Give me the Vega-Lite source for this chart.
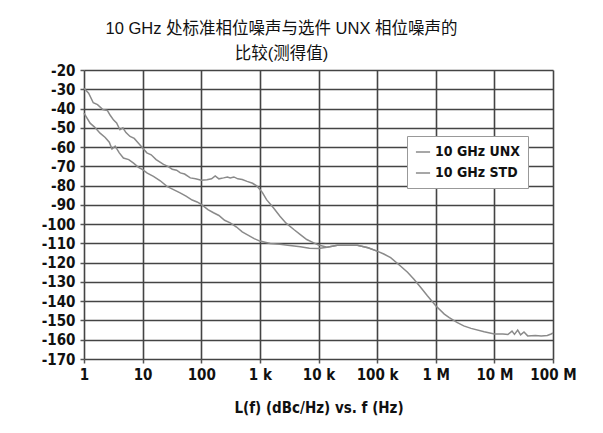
{
  "$schema": "https://vega.github.io/schema/vega-lite/v6.json",
  "autosize": {"type": "none"},
  "width": 469,
  "height": 289,
  "padding": {"left": 84, "top": 70, "right": 50, "bottom": 74},
  "background": "white",
  "title": {
    "text": ["10 GHz 处标准相位噪声与选件 UNX 相位噪声的", "比较(测得值)"],
    "font": "Liberation Sans, Noto Sans CJK SC, sans-serif",
    "fontSize": 16.5,
    "fontWeight": "normal",
    "color": "#111",
    "lineHeight": 25,
    "anchor": "middle",
    "frame": "group",
    "dx": -37,
    "offset": 1
  },
  "config": {
    "view": {"stroke": null},
    "axis": {
      "labelFont": "Liberation Sans Narrow, DejaVu Sans Condensed, sans-serif",
      "labelFontWeight": "bold",
      "labelFontSize": 15,
      "labelColor": "#111",
      "titleFont": "Liberation Sans Narrow, DejaVu Sans Condensed, sans-serif",
      "titleFontWeight": "bold",
      "titleFontSize": 15,
      "titleColor": "#111",
      "gridColor": "#444",
      "gridWidth": 1.6,
      "gridOpacity": 1,
      "tickColor": "#555",
      "tickWidth": 1.5,
      "tickSize": 4,
      "domain": false
    },
    "legend": {
      "labelFont": "Liberation Sans Narrow, DejaVu Sans Condensed, sans-serif",
      "labelFontWeight": "bold",
      "labelFontSize": 14,
      "labelColor": "#111"
    }
  },
  "data": {
    "values": [
      {"f": 1, "L": -29.5, "s": "10 GHz STD"},
      {"f": 1.2, "L": -32, "s": "10 GHz STD"},
      {"f": 1.44, "L": -37, "s": "10 GHz STD"},
      {"f": 1.7, "L": -38, "s": "10 GHz STD"},
      {"f": 2.1, "L": -40.5, "s": "10 GHz STD"},
      {"f": 2.5, "L": -41, "s": "10 GHz STD"},
      {"f": 2.8, "L": -43.5, "s": "10 GHz STD"},
      {"f": 3.2, "L": -46, "s": "10 GHz STD"},
      {"f": 3.6, "L": -47.5, "s": "10 GHz STD"},
      {"f": 4.1, "L": -51, "s": "10 GHz STD"},
      {"f": 4.6, "L": -50, "s": "10 GHz STD"},
      {"f": 5.2, "L": -52.5, "s": "10 GHz STD"},
      {"f": 6.1, "L": -54.5, "s": "10 GHz STD"},
      {"f": 7.2, "L": -55.5, "s": "10 GHz STD"},
      {"f": 8.5, "L": -58, "s": "10 GHz STD"},
      {"f": 10, "L": -60.5, "s": "10 GHz STD"},
      {"f": 11.8, "L": -63, "s": "10 GHz STD"},
      {"f": 14, "L": -64, "s": "10 GHz STD"},
      {"f": 17, "L": -66.5, "s": "10 GHz STD"},
      {"f": 22.7, "L": -69, "s": "10 GHz STD"},
      {"f": 27, "L": -70, "s": "10 GHz STD"},
      {"f": 32, "L": -71.5, "s": "10 GHz STD"},
      {"f": 38, "L": -72, "s": "10 GHz STD"},
      {"f": 44, "L": -73.4, "s": "10 GHz STD"},
      {"f": 52, "L": -74, "s": "10 GHz STD"},
      {"f": 65, "L": -76, "s": "10 GHz STD"},
      {"f": 80, "L": -76.5, "s": "10 GHz STD"},
      {"f": 100, "L": -77.2, "s": "10 GHz STD"},
      {"f": 125, "L": -77, "s": "10 GHz STD"},
      {"f": 150, "L": -76.5, "s": "10 GHz STD"},
      {"f": 173, "L": -75, "s": "10 GHz STD"},
      {"f": 200, "L": -76.5, "s": "10 GHz STD"},
      {"f": 240, "L": -76, "s": "10 GHz STD"},
      {"f": 280, "L": -75.5, "s": "10 GHz STD"},
      {"f": 312, "L": -76, "s": "10 GHz STD"},
      {"f": 360, "L": -75.5, "s": "10 GHz STD"},
      {"f": 420, "L": -76.5, "s": "10 GHz STD"},
      {"f": 500, "L": -76.8, "s": "10 GHz STD"},
      {"f": 605, "L": -77.8, "s": "10 GHz STD"},
      {"f": 750, "L": -78.8, "s": "10 GHz STD"},
      {"f": 895, "L": -80.3, "s": "10 GHz STD"},
      {"f": 1100, "L": -83.5, "s": "10 GHz STD"},
      {"f": 1300, "L": -87.3, "s": "10 GHz STD"},
      {"f": 1700, "L": -91.5, "s": "10 GHz STD"},
      {"f": 2200, "L": -95.9, "s": "10 GHz STD"},
      {"f": 2800, "L": -99.5, "s": "10 GHz STD"},
      {"f": 3800, "L": -102.8, "s": "10 GHz STD"},
      {"f": 4900, "L": -105.4, "s": "10 GHz STD"},
      {"f": 6300, "L": -108, "s": "10 GHz STD"},
      {"f": 8300, "L": -109.7, "s": "10 GHz STD"},
      {"f": 10000, "L": -110.8, "s": "10 GHz STD"},
      {"f": 14000, "L": -112, "s": "10 GHz STD"},
      {"f": 21000, "L": -111, "s": "10 GHz STD"},
      {"f": 30000, "L": -111, "s": "10 GHz STD"},
      {"f": 46000, "L": -111, "s": "10 GHz STD"},
      {"f": 70000, "L": -112.3, "s": "10 GHz STD"},
      {"f": 100000, "L": -114, "s": "10 GHz STD"},
      {"f": 130000, "L": -115.5, "s": "10 GHz STD"},
      {"f": 170000, "L": -117.4, "s": "10 GHz STD"},
      {"f": 250000, "L": -121.7, "s": "10 GHz STD"},
      {"f": 330000, "L": -125, "s": "10 GHz STD"},
      {"f": 425000, "L": -128.6, "s": "10 GHz STD"},
      {"f": 560000, "L": -133, "s": "10 GHz STD"},
      {"f": 720000, "L": -137.2, "s": "10 GHz STD"},
      {"f": 1000000, "L": -142.4, "s": "10 GHz STD"},
      {"f": 1400000, "L": -146.7, "s": "10 GHz STD"},
      {"f": 1700000, "L": -148.5, "s": "10 GHz STD"},
      {"f": 2300000, "L": -151, "s": "10 GHz STD"},
      {"f": 3000000, "L": -152.8, "s": "10 GHz STD"},
      {"f": 4000000, "L": -154.1, "s": "10 GHz STD"},
      {"f": 6700000, "L": -155.9, "s": "10 GHz STD"},
      {"f": 10000000, "L": -157, "s": "10 GHz STD"},
      {"f": 14000000, "L": -157, "s": "10 GHz STD"},
      {"f": 17000000, "L": -157.3, "s": "10 GHz STD"},
      {"f": 20000000, "L": -155.5, "s": "10 GHz STD"},
      {"f": 22000000, "L": -157.2, "s": "10 GHz STD"},
      {"f": 25000000, "L": -155, "s": "10 GHz STD"},
      {"f": 28000000, "L": -157.5, "s": "10 GHz STD"},
      {"f": 32000000, "L": -156, "s": "10 GHz STD"},
      {"f": 37000000, "L": -158, "s": "10 GHz STD"},
      {"f": 50000000, "L": -157.8, "s": "10 GHz STD"},
      {"f": 63000000, "L": -158, "s": "10 GHz STD"},
      {"f": 80000000, "L": -157.8, "s": "10 GHz STD"},
      {"f": 93000000, "L": -157, "s": "10 GHz STD"},
      {"f": 100000000, "L": -156.5, "s": "10 GHz STD"},

      {"f": 1, "L": -42.4, "s": "10 GHz UNX"},
      {"f": 1.27, "L": -47.6, "s": "10 GHz UNX"},
      {"f": 1.5, "L": -49.5, "s": "10 GHz UNX"},
      {"f": 1.88, "L": -52.8, "s": "10 GHz UNX"},
      {"f": 2.3, "L": -55, "s": "10 GHz UNX"},
      {"f": 2.7, "L": -57.5, "s": "10 GHz UNX"},
      {"f": 3, "L": -61, "s": "10 GHz UNX"},
      {"f": 3.4, "L": -59.5, "s": "10 GHz UNX"},
      {"f": 4, "L": -63, "s": "10 GHz UNX"},
      {"f": 4.7, "L": -65.7, "s": "10 GHz UNX"},
      {"f": 5.8, "L": -66.5, "s": "10 GHz UNX"},
      {"f": 7, "L": -68.3, "s": "10 GHz UNX"},
      {"f": 8.5, "L": -70.5, "s": "10 GHz UNX"},
      {"f": 10, "L": -71.7, "s": "10 GHz UNX"},
      {"f": 12, "L": -73.5, "s": "10 GHz UNX"},
      {"f": 15.3, "L": -75.2, "s": "10 GHz UNX"},
      {"f": 20, "L": -77.5, "s": "10 GHz UNX"},
      {"f": 26, "L": -80.4, "s": "10 GHz UNX"},
      {"f": 33, "L": -82, "s": "10 GHz UNX"},
      {"f": 43.6, "L": -83.8, "s": "10 GHz UNX"},
      {"f": 55, "L": -85.5, "s": "10 GHz UNX"},
      {"f": 70, "L": -87.5, "s": "10 GHz UNX"},
      {"f": 85, "L": -88.5, "s": "10 GHz UNX"},
      {"f": 100, "L": -89.8, "s": "10 GHz UNX"},
      {"f": 130, "L": -92.5, "s": "10 GHz UNX"},
      {"f": 162, "L": -94.1, "s": "10 GHz UNX"},
      {"f": 200, "L": -95.5, "s": "10 GHz UNX"},
      {"f": 250, "L": -98, "s": "10 GHz UNX"},
      {"f": 312, "L": -99.3, "s": "10 GHz UNX"},
      {"f": 400, "L": -101.5, "s": "10 GHz UNX"},
      {"f": 500, "L": -104, "s": "10 GHz UNX"},
      {"f": 605, "L": -105.4, "s": "10 GHz UNX"},
      {"f": 800, "L": -107.5, "s": "10 GHz UNX"},
      {"f": 1000, "L": -108.8, "s": "10 GHz UNX"},
      {"f": 1500, "L": -110, "s": "10 GHz UNX"},
      {"f": 2200, "L": -110.5, "s": "10 GHz UNX"},
      {"f": 3000, "L": -111, "s": "10 GHz UNX"},
      {"f": 4900, "L": -111.7, "s": "10 GHz UNX"},
      {"f": 7000, "L": -112.5, "s": "10 GHz UNX"},
      {"f": 10000, "L": -112.7, "s": "10 GHz UNX"},
      {"f": 14000, "L": -112, "s": "10 GHz UNX"},
      {"f": 21000, "L": -111, "s": "10 GHz UNX"},
      {"f": 30000, "L": -111, "s": "10 GHz UNX"},
      {"f": 46000, "L": -111, "s": "10 GHz UNX"},
      {"f": 70000, "L": -112.3, "s": "10 GHz UNX"},
      {"f": 100000, "L": -114, "s": "10 GHz UNX"}
    ]
  },
  "mark": {"type": "line", "strokeWidth": 1.5, "interpolate": "linear"},
  "encoding": {
    "x": {
      "field": "f",
      "type": "quantitative",
      "scale": {"type": "log", "domain": [1, 100000000], "nice": false},
      "axis": {
        "values": [1, 10, 100, 1000, 10000, 100000, 1000000, 10000000, 100000000],
        "labelExpr": "datum.value >= 1e6 ? format(datum.value/1e6, 'd') + ' M' : datum.value >= 1e3 ? format(datum.value/1e3, 'd') + ' k' : format(datum.value, 'd')",
        "labelPadding": 4,
        "labelFlush": false,
        "labelOverlap": false,
        "title": "L(f) (dBc/Hz) vs. f (Hz)",
        "titlePadding": 18
      }
    },
    "y": {
      "field": "L",
      "type": "quantitative",
      "scale": {"domain": [-170, -20], "nice": false, "zero": false},
      "axis": {
        "values": [-170, -160, -150, -140, -130, -120, -110, -100, -90, -80, -70, -60, -50, -40, -30, -20],
        "labelExpr": "'' + datum.value",
        "labelPadding": 5,
        "labelFlush": false,
        "labelOverlap": false,
        "title": null
      }
    },
    "color": {
      "field": "s",
      "type": "nominal",
      "sort": ["10 GHz UNX", "10 GHz STD"],
      "scale": {"range": ["#8a8a8a", "#8a8a8a"]},
      "legend": {
        "title": null,
        "orient": "none",
        "legendX": 323,
        "legendY": 66,
        "symbolType": "stroke",
        "symbolSize": 200,
        "symbolStrokeWidth": 1.5,
        "fillColor": "white",
        "strokeColor": "#999",
        "padding": 8,
        "rowPadding": 6
      }
    }
  }
}
